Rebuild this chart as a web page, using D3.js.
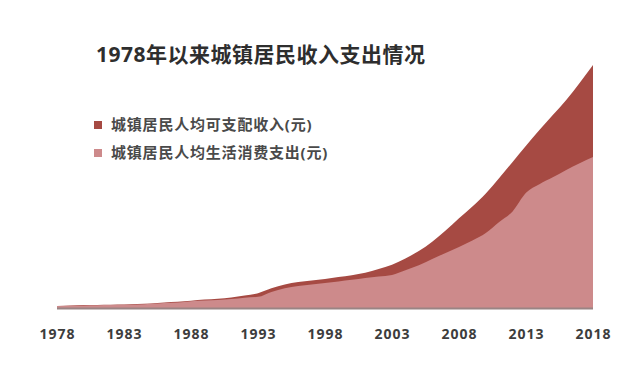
<!DOCTYPE html>
<html>
<head>
<meta charset="utf-8">
<script src="https://cdn.jsdelivr.net/npm/d3@7/dist/d3.min.js"></script>
<style>
  html, body { margin: 0; padding: 0; background: #fff; }
  svg { display: block; }
  text { font-family: "Open Sans", "Noto Sans CJK SC", sans-serif; }
</style>
</head>
<body>
<svg id="chart" width="640" height="368"></svg>
<script>
const years = [1978,1979,1980,1981,1982,1983,1984,1985,1986,1987,1988,1989,1990,1991,1992,1993,1994,1995,1996,1997,1998,1999,2000,2001,2002,2003,2004,2005,2006,2007,2008,2009,2010,2011,2012,2013,2014,2015,2016,2017,2018];
const income = [343,405,478,500,535,565,652,739,901,1002,1180,1374,1510,1701,2027,2400,3200,3800,4200,4450,4700,5000,5300,5700,6300,7000,8000,9200,10700,12500,14500,16400,18500,21000,23600,26200,28750,31170,33600,36340,39250];
const spending = [311,362,412,457,471,506,559,673,799,884,1104,1211,1279,1454,1672,1800,2600,3200,3550,3800,4050,4300,4550,4850,5100,5350,6100,6900,7900,8900,9850,10900,12100,13900,15600,18600,20000,21100,22300,23400,24400];
const tickYears = [1978,1983,1988,1993,1998,2003,2008,2013,2018];
const seriesNames = ["城镇居民人均可支配收入(元)", "城镇居民人均生活消费支出(元)"];
const title = "1978年以来城镇居民收入支出情况";
const colors = ["#a64a43", "#cd8a8b"];

const svg = d3.select("#chart");
const x = d3.scaleLinear().domain([1978, 2018]).range([57, 593]);
const y = d3.scaleLinear().domain([0, 39250]).range([308, 65]);

const area = vals => d3.area()
  .x((d, i) => x(years[i]))
  .y0(y(0))
  .y1((d) => y(d))
  .curve(d3.curveMonotoneX)(vals);

svg.append("path").attr("d", area(income)).attr("fill", colors[0]);
svg.append("path").attr("d", area(spending)).attr("fill", colors[1]);

// baseline
svg.append("line")
  .attr("x1", x(1978)).attr("x2", x(2018))
  .attr("y1", y(0) + 0.5).attr("y2", y(0) + 0.5)
  .attr("stroke", "#9a8484").attr("stroke-width", 2);

// x axis
const axis = svg.append("g")
  .attr("transform", `translate(0, ${y(0) + 18})`)
  .call(d3.axisBottom(x).tickValues(tickYears).tickFormat(d3.format("d")).tickSize(0));
axis.select(".domain").remove();
axis.selectAll("text")
  .attr("font-family", "Open Sans, sans-serif")
  .attr("font-size", 14)
  .attr("font-weight", "bold")
  .attr("letter-spacing", 1)
  .attr("fill", "#3d3d3d");

// title
svg.append("text")
  .attr("x", 96).attr("y", 62)
  .attr("font-size", 21)
  .attr("font-weight", "bold")
  .attr("letter-spacing", 0.5)
  .attr("fill", "#2e2e2e")
  .text(title);

// legend
const legend = svg.append("g");
seriesNames.forEach((name, i) => {
  const cy = 125 + i * 28;
  legend.append("rect")
    .attr("x", 94).attr("y", cy - 4)
    .attr("width", 8).attr("height", 8)
    .attr("fill", colors[i]);
  legend.append("text")
    .attr("x", 111).attr("y", cy)
    .attr("dy", "0.35em")
    .attr("font-size", 15)
    .attr("font-weight", "bold")
    .attr("letter-spacing", 0.8)
    .attr("fill", "#4a4a4a")
    .text(name);
});
</script>
</body>
</html>
